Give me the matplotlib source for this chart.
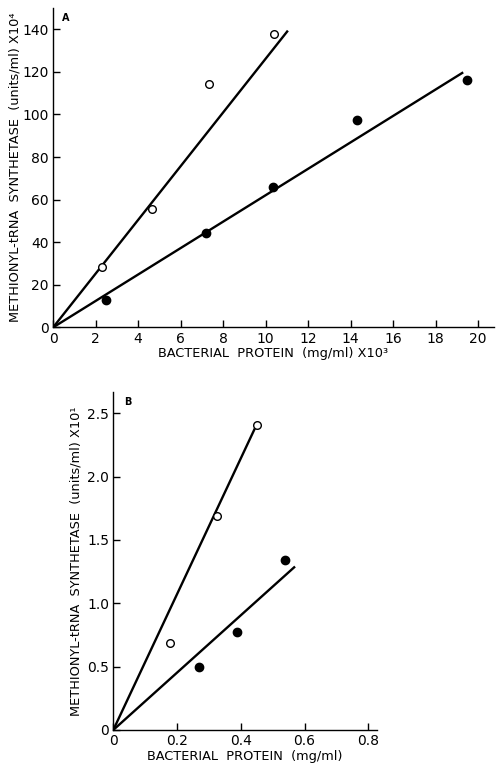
import matplotlib
matplotlib.use("Agg")
from matplotlib import pyplot as plt
from matplotlib.ticker import FixedLocator, FixedFormatter

# Panel A: protein in mg/ml x10^3, activity in units/ml x10^4
a_open_x = [2.3, 4.65, 7.35, 10.4]
a_open_y = [28.5, 55.5, 114.5, 138.0]
a_fill_x = [2.5, 7.2, 10.35, 14.3, 19.5]
a_fill_y = [13.0, 44.5, 66.0, 97.5, 116.0]
a_open_fit_x = [0, 11.05]
a_open_fit_y = [0, 139.4]
a_fill_fit_x = [0, 19.3]
a_fill_fit_y = [0, 119.8]
a_xticks = [0, 2, 4, 6, 8, 10, 12, 14, 16, 18, 20]
a_yticks = [0, 20, 40, 60, 80, 100, 120, 140]

# Panel B: protein in mg/ml, activity in units/ml x10^1
b_open_x = [0.178, 0.326, 0.45]
b_open_y = [0.69, 1.69, 2.41]
b_fill_x = [0.27, 0.387, 0.539]
b_fill_y = [0.5, 0.77, 1.34]
b_open_fit_x = [0, 0.444]
b_open_fit_y = [0, 2.38]
b_fill_fit_x = [0, 0.57]
b_fill_fit_y = [0, 1.29]
b_xticks = [0, 0.2, 0.4, 0.6, 0.8]
b_xticklabels = ["0", "0.2", "0.4", "0.6", "0.8"]
b_yticks = [0, 0.5, 1.0, 1.5, 2.0, 2.5]
b_yticklabels = ["0", "0.5", "1.0", "1.5", "2.0", "2.5"]

plt.rcParams["font.family"] = ["DejaVu Sans"]
TICK_FS = 10
LABEL_FS = 9.3


def style_axes(ax):
    for side in ("top", "right"):
        ax.spines[side].set_visible(False)
    for side in ("left", "bottom"):
        ax.spines[side].set_linewidth(1.0)
    ax.tick_params(direction="in", length=5, width=1.0, labelsize=TICK_FS, pad=3)


def draw_series(ax, ox, oy, fx, fy, ofx, ofy, ffx, ffy):
    ax.plot(ofx, ofy, color="black", lw=1.7, solid_capstyle="butt")
    ax.plot(ffx, ffy, color="black", lw=1.7, solid_capstyle="butt")
    ax.plot(ox, oy, "o", mfc="white", mec="black", mew=1.0, ms=5.5, ls="none", zorder=3)
    ax.plot(fx, fy, "o", color="black", ms=6, ls="none", zorder=3)


fig = plt.figure(figsize=(4.96, 7.65), dpi=100)

# ---- panel A ----
axA = fig.add_axes([0.107, 0.572, 0.889, 0.4175])
draw_series(axA, a_open_x, a_open_y, a_fill_x, a_fill_y,
            a_open_fit_x, a_open_fit_y, a_fill_fit_x, a_fill_fit_y)
axA.set_xlim(0, 20.75)
axA.set_ylim(0, 150)
axA.xaxis.set_major_locator(FixedLocator(a_xticks))
axA.yaxis.set_major_locator(FixedLocator(a_yticks))
style_axes(axA)
axA.set_xlabel("BACTERIAL  PROTEIN  (mg/ml) X10³", fontsize=LABEL_FS, labelpad=1)
axA.set_ylabel("METHIONYL-tRNA  SYNTHETASE  (units/ml) X10⁴", fontsize=LABEL_FS, labelpad=1)
axA.text(0.02, 0.985, "A", transform=axA.transAxes, fontsize=7,
         fontweight="bold", va="top", ha="left")

# ---- panel B ----
axB = fig.add_axes([0.2284, 0.0458, 0.531, 0.4422])
draw_series(axB, b_open_x, b_open_y, b_fill_x, b_fill_y,
            b_open_fit_x, b_open_fit_y, b_fill_fit_x, b_fill_fit_y)
axB.set_xlim(0, 0.826)
axB.set_ylim(0, 2.67)
axB.xaxis.set_major_locator(FixedLocator(b_xticks))
axB.xaxis.set_major_formatter(FixedFormatter(b_xticklabels))
axB.yaxis.set_major_locator(FixedLocator(b_yticks))
axB.yaxis.set_major_formatter(FixedFormatter(b_yticklabels))
style_axes(axB)
axB.set_xlabel("BACTERIAL  PROTEIN  (mg/ml)", fontsize=LABEL_FS, labelpad=1)
axB.set_ylabel("METHIONYL-tRNA  SYNTHETASE  (units/ml) X10¹", fontsize=LABEL_FS, labelpad=3)
axB.text(0.04, 0.985, "B", transform=axB.transAxes, fontsize=7,
         fontweight="bold", va="top", ha="left")

fig.savefig("out.png", dpi=100)
